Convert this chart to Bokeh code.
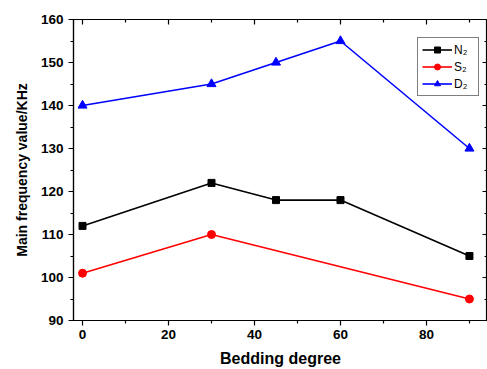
from bokeh.plotting import figure
from bokeh.models import LinearAxis, Range1d, Legend, LegendItem, FixedTicker, CustomJSTickFormatter
from bokeh.embed import file_html
from bokeh.resources import INLINE

n2_x = [0, 30, 45, 60, 90]
n2_y = [112, 122, 118, 118, 105]
s2_x = [0, 30, 90]
s2_y = [101, 110, 95]
d2_x = [0, 30, 45, 60, 90]
d2_y = [140, 145, 150, 155, 130]
x_ticks = [0, 20, 40, 60, 80]
x_minor = [10, 30, 50, 70, 90]
y_ticks = [90, 100, 110, 120, 130, 140, 150, 160]
y_minor = [95, 105, 115, 125, 135, 145, 155]

FONT = "Liberation Sans"

p = figure(width=487, height=369, output_backend="svg", toolbar_location=None,
           x_range=Range1d(-2.1, 94.2), y_range=Range1d(90, 160),
           min_border_left=73, min_border_right=0, min_border_top=19, min_border_bottom=48)
p.xgrid.visible = False
p.ygrid.visible = False
p.outline_line_color = "black"
p.outline_line_width = 1.2
p.background_fill_color = "white"
p.border_fill_color = "white"

def style_axis(ax, tin, tout):
    ax.axis_line_color = "black"
    ax.axis_line_width = 1.2
    ax.major_tick_in = tin
    ax.major_tick_out = tout
    ax.minor_tick_in = 3 if tin else 0
    ax.minor_tick_out = 3 if tout else 0
    ax.major_tick_line_width = 1.2
    ax.minor_tick_line_width = 1.2
    ax.major_label_text_font = FONT
    ax.major_label_text_font_style = "bold"
    ax.major_label_text_font_size = "13.5px"
    ax.major_label_text_color = "black"
    ax.axis_label_text_font = FONT
    ax.axis_label_text_font_style = "bold"
    ax.axis_label_text_color = "black"

xa = p.xaxis[0]
xa.ticker = FixedTicker(ticks=x_ticks, minor_ticks=x_minor)
xa.axis_label = "Bedding degree"
style_axis(xa, 0, 5)
xa.axis_label_text_font_size = "16px"
xa.major_label_standoff = 4
xa.axis_label_standoff = 8

ya = p.yaxis[0]
ya.ticker = FixedTicker(ticks=y_ticks, minor_ticks=y_minor)
ya.axis_label = "Main frequency value/KHz"
style_axis(ya, 0, 5)
ya.axis_label_text_font_size = "14px"
ya.major_label_standoff = 5
ya.axis_label_standoff = 8

blank = CustomJSTickFormatter(code="return '';")
top = LinearAxis(ticker=FixedTicker(ticks=x_ticks, minor_ticks=x_minor), formatter=blank)
style_axis(top, 5, 0)
p.add_layout(top, "above")
right = LinearAxis(ticker=FixedTicker(ticks=y_ticks, minor_ticks=y_minor), formatter=blank)
style_axis(right, 5, 0)
p.add_layout(right, "right")

l1 = p.line(n2_x, n2_y, line_color="black", line_width=1.6)
m1 = p.scatter(n2_x, n2_y, marker="square", size=7, fill_color="black", line_color="black")
l2 = p.line(s2_x, s2_y, line_color="red", line_width=1.6)
m2 = p.scatter(s2_x, s2_y, marker="circle", size=8, fill_color="red", line_color="red")
l3 = p.line(d2_x, d2_y, line_color="blue", line_width=1.6)
m3 = p.scatter(d2_x, d2_y, marker="triangle", size=9, fill_color="blue", line_color="blue")

legend = Legend(items=[LegendItem(label="N₂", renderers=[l1, m1]),
                       LegendItem(label="S₂", renderers=[l2, m2]),
                       LegendItem(label="D₂", renderers=[l3, m3])],
                location=(344, 224))
legend.label_text_font = FONT
legend.label_text_font_size = "12px"
legend.label_text_color = "black"
legend.border_line_color = "black"
legend.border_line_width = 1
legend.glyph_width = 30
legend.glyph_height = 15
legend.spacing = 2
legend.padding = 4
legend.margin = 0
legend.label_standoff = 2
legend.label_height = 15
legend.background_fill_alpha = 1
p.add_layout(legend, "center")

open("out.html", "w").write(file_html(p, INLINE))
